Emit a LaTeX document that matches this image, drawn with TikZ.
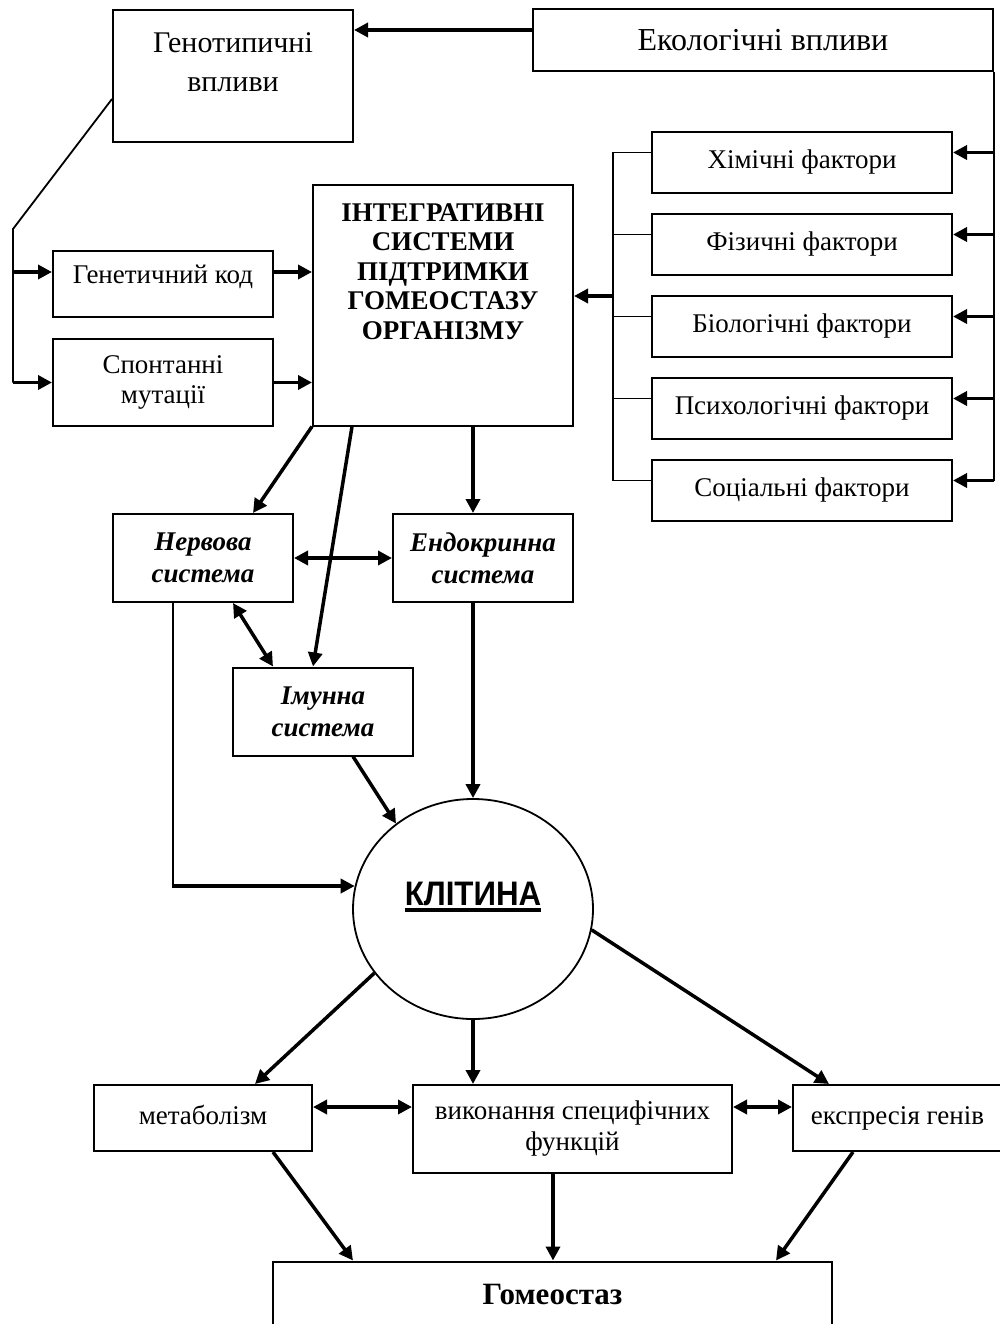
\documentclass[tikz,border=0pt]{standalone}
\usepackage{fontspec}
\setmainfont{Liberation Serif}
\newfontfamily\cellfont{Liberation Sans}
\usetikzlibrary{arrows.meta,shapes.geometric}
\newcommand\fs[2]{\fontsize{#1}{#2}\selectfont}
\tikzset{
  box/.style={draw, line width=2pt, inner sep=0pt, align=center, font=\fs{27}{30}},
  thinln/.style={line width=1.8pt},
  tip/.tip={Triangle[length=14pt,width=14pt]},
  thk/.style={line width=3.5pt, -tip},
  dbl/.style={line width=3.5pt, tip-tip},
  txt/.style={inner sep=0pt, align=center},
}
\begin{document}
\begin{tikzpicture}[x=1pt,y=-1pt]
\fill[white] (0,0) rectangle (1000,1324);
\useasboundingbox (0,0) rectangle (1000,1324);

% top boxes
\node[box, minimum width=240pt, minimum height=132pt] (gen) at (233,76) {};
\node[txt, anchor=north, font=\fs{30}{39}] (gentxt) at (233,32) {Генотипичні\\впливи};
\node[box, font=\fs{32}{36}, minimum width=460pt, minimum height=62pt] (eco) at (763,40) {Екологічні впливи};

% factors
\node[box, minimum width=300pt, minimum height=61pt] (f1) at (802,162.5) {Хімічні фактори};
\node[box, minimum width=300pt, minimum height=61pt] (f2) at (802,244.5) {Фізичні фактори};
\node[box, minimum width=300pt, minimum height=61pt] (f3) at (802,326.5) {Біологічні фактори};
\node[box, minimum width=300pt, minimum height=61pt] (f4) at (802,408.5) {Психологічні фактори};
\node[box, minimum width=300pt, minimum height=61pt] (f5) at (802,490.5) {Соціальні фактори};

% integrative systems
\node[box, minimum width=260pt, minimum height=240pt] (integ) at (443,305.5) {};
\node[txt, anchor=north, font=\bfseries\fs{27}{29.5}] (integtxt) at (443,203) {ІНТЕГРАТИВНІ\\СИСТЕМИ\\ПІДТРИМКИ\\ГОМЕОСТАЗУ\\ОРГАНІЗМУ};

% genetic
\node[box, minimum width=220pt, minimum height=66pt, text height=19pt, text depth=21pt] (gcode) at (163,284) {Генетичний код};
\node[box, minimum width=220pt, minimum height=87pt] (mut) at (163,382.5) {Спонтанні\\мутації};

% systems
\node[box, font=\bfseries\itshape\fs{27}{32}, minimum width=180pt, minimum height=88pt] (nerv) at (203,558) {Нервова\\система};
\node[box, font=\bfseries\itshape\fs{27}{32}, minimum width=180pt, minimum height=88pt] (endo) at (483,558) {Ендокринна\\система};
\node[box, font=\bfseries\itshape\fs{27}{32}, minimum width=180pt, minimum height=88pt] (imm) at (323,711.5) {Імунна\\система};

% cell
\node[draw, ellipse, line width=1.8pt, minimum width=240pt, minimum height=220pt, inner sep=0pt, text depth=24pt] (cell) at (473,909)
  {\cellfont\bfseries\fs{34}{36}\setbox0\hbox{\scalebox{0.92}[1]{КЛІТИНА}}\vbox{\copy0\kern3pt\hrule height 4pt}};

% bottom boxes
\node[box, minimum width=218pt, minimum height=66pt, text height=19pt, text depth=6pt] (met) at (203,1118) {метаболізм};
\node[box, font=\fs{27}{31}, minimum width=319pt, minimum height=88pt] (vyk) at (572.5,1129) {виконання специфічних\\функцій};
\node[box, minimum width=209pt, minimum height=66pt] (exp) at (897.5,1118) {експресія генів};
\node[box, font=\bfseries\fs{31}{34}, minimum width=559pt, minimum height=65pt] (hom) at (552.5,1294) {Гомеостаз};

% ---- connectors ----
\coordinate (ecoA) at ([yshift=10pt]eco.west);
\draw[thk] (ecoA) -- (ecoA -| gen.east);

\coordinate (genA) at ([yshift=-23pt]gen.west);
\coordinate (busT) at (13,229);
\coordinate (busB) at (busT |- mut.west);
\draw[thinln] (genA) -- (busT) -- (busB);
\coordinate (gA) at ([yshift=12pt]gcode.west);
\coordinate (gB) at ([yshift=12pt]gcode.east);
\draw[thk] (gA -| busT) -- (gA);
\draw[thk] (busB) -- (mut.west);
\draw[thk] (gB) -- (gB -| integ.west);
\draw[thk] (mut.east) -- (mut.east -| integ.west);

% right bus
\foreach \i in {1,...,5}{
  \coordinate (fe\i) at ([yshift=10pt]f\i.east);
  \coordinate (fw\i) at ([yshift=10pt]f\i.west);
}
\draw[thinln] (eco.south east) -- (fe5 -| eco.east);
\foreach \i in {1,...,5}{
  \draw[thk] (fe\i -| eco.east) -- (fe\i);
}
% left factor bus
\coordinate (lb) at (613,296);
\draw[thinln] (fw1 -| lb) -- (fw5 -| lb);
\foreach \i in {1,...,5}{
  \draw[thinln] (fw\i -| lb) -- (fw\i);
}
\draw[thk] (lb) -- (lb -| integ.east);

% integ to systems
\draw[thk] (integ.south west) -- ([xshift=50pt]nerv.north);
\draw[thk] ([xshift=40pt]integ.south west) -- ([xshift=-10pt]imm.north);
\coordinate (iS) at ([xshift=30pt]integ.south);
\draw[thk] (iS) -- (iS |- endo.north);
\draw[dbl] (nerv.east) -- (endo.west);
\draw[dbl] ([xshift=30pt]nerv.south) -- ([xshift=-50pt]imm.north);

% to cell
\coordinate (nB) at ([xshift=-30pt]nerv.south);
\coordinate (nC) at (nB |- cell.169);
\draw[thinln] (nB) -- ([yshift=-0.9pt]nC);
\draw[thk] ([xshift=-0.9pt]nC) -- (cell.169);
\draw[thk] ([xshift=30pt]imm.south) -- (cell.132);
\coordinate (eS) at ([xshift=-10pt]endo.south);
\draw[thk] (eS) -- (cell.north);

% from cell
\draw[thk] (cell.213) -- ([xshift=52pt]met.north);
\draw[thk] (cell.south) -- (cell.south |- vyk.north);
\draw[thk] (cell.350) -- ([xshift=-68.5pt]exp.north);
\coordinate (mA) at ([yshift=11pt]met.east);
\draw[dbl] (mA) -- (mA -| vyk.west);
\coordinate (vA) at ([yshift=22pt]vyk.east);
\draw[dbl] (vA) -- (vA -| exp.west);

% to homeostasis
\draw[thk] ([xshift=70pt]met.south) -- ([xshift=-199.5pt]hom.north);
\coordinate (vS) at ([xshift=-19.5pt]vyk.south);
\draw[thk] (vS) -- (vS |- hom.north);
\draw[thk] ([xshift=-44.5pt]exp.south) -- ([xshift=223.5pt]hom.north);
\end{tikzpicture}
\end{document}
